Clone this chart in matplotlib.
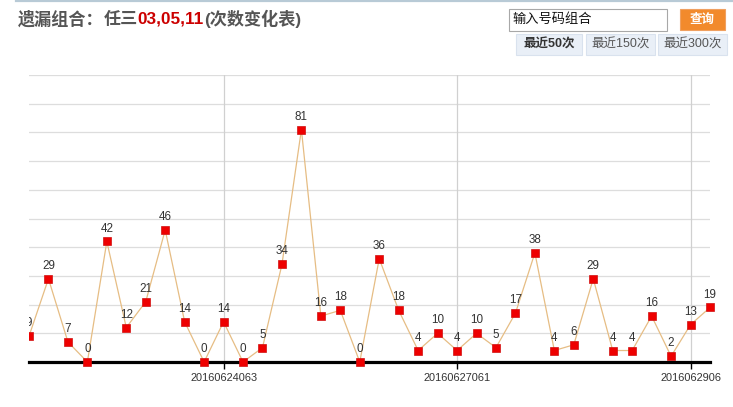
import matplotlib
matplotlib.use("Agg")
import matplotlib.pyplot as plt
from matplotlib.patches import Rectangle

plt.rcParams['font.family'] = ['Liberation Sans', 'Noto Sans CJK SC', 'DejaVu Sans']

# data
values = [9, 29, 7, 0, 42, 12, 21, 46, 14, 0, 14, 0, 5, 34, 81, 16, 18, 0,
          36, 18, 4, 10, 4, 10, 5, 17, 38, 4, 6, 29, 4, 4, 16, 2, 13, 19]
tick_index = [10, 22, 34]
tick_labels = ["20160624063", "20160627061", "2016062906"]
title_parts = [("遗漏组合：", "#555555"), ("任三", "#555555"),
               ("03,05,11", "#cc0000"), ("(次数变化表)", "#555555")]
tabs = ["最近50次", "最近150次", "最近300次"]

W, H = 733, 407
fig = plt.figure(figsize=(W / 100, H / 100), dpi=100)


def px(x, y):
    # pixel coords (top-left origin) -> figure fraction
    return x / W, 1 - y / H


def box(x0, y0, x1, y1, **kw):
    fig.patches.append(Rectangle((x0 / W, 1 - y1 / H), (x1 - x0) / W, (y1 - y0) / H,
                                 transform=fig.transFigure, **kw))


# plot area
left, right, top, bottom = 29, 710, 75, 362
ax = fig.add_axes([left / W, 1 - bottom / H, (right - left) / W, (bottom - top) / H])
n = len(values)
xs = list(range(n))
ax.set_xlim(0, n - 1)
ax.set_ylim(0, 100)

for v in range(10, 101, 10):
    ax.axhline(v, color="#dddddd", lw=0.9, zorder=0)
for i in tick_index:
    ax.axvline(i, color="#d0d0d0", lw=0.9, zorder=0)

ax.plot(xs, values, color="#e6bd84", lw=0.9, zorder=2)
# first point sits on the left edge and gets clipped, the rest do not
ax.plot(xs[:1], values[:1], ls="none", marker="s", ms=5.6, mfc="#ee0000",
        mec="#d01010", mew=0.5, zorder=4)
ax.plot(xs[1:], values[1:], ls="none", marker="s", ms=5.6, mfc="#ee0000",
        mec="#d01010", mew=0.5, zorder=4, clip_on=False)

for i, v in enumerate(values):
    ax.annotate(str(v), (i, v), xytext=(0, 5), textcoords="offset points",
                ha="center", va="bottom", fontsize=8.4, color="#333333",
                annotation_clip=False, clip_on=(i == 0), zorder=5)

for s in ["top", "right", "left"]:
    ax.spines[s].set_visible(False)
ax.spines["bottom"].set_color("black")
ax.spines["bottom"].set_linewidth(2.3)
ax.spines["bottom"].set_zorder(3)
ax.set_yticks([])
ax.set_xticks(tick_index)
ax.set_xticklabels(tick_labels, fontsize=7.9, color="#333333")
ax.tick_params(axis="x", length=5, width=1, color="black", pad=3)

# top border line
fig.add_artist(plt.Line2D([16 / W, 1], [1 - 1.2 / H] * 2, color="#b8cad6", lw=1.6,
                          transform=fig.transFigure))

# title in coloured pieces, chained left to right
t = fig.text(*px(18, 19), title_parts[0][0], color=title_parts[0][1], fontsize=12.3,
             fontweight="bold", va="center", ha="left")
for s, c in title_parts[1:]:
    t = fig.add_artist(plt.Annotation(s, xy=(1, 0.5), xycoords=t, va="center", ha="left",
                                      color=c, fontsize=12.3, fontweight="bold",
                                      annotation_clip=False))

# search box and button
box(509, 9, 667, 31, facecolor="white", edgecolor="#a8a8a8", lw=0.8)
fig.text(*px(512, 20), "输入号码组合", fontsize=9.5, color="#111111", va="center")
box(680, 9, 725, 30, facecolor="#f28a2c", edgecolor="#f0a060", lw=0.8)
fig.text(*px(702.5, 19.5), "查询", fontsize=9, color="white", fontweight="bold",
         ha="center", va="center")

# tabs
tab_x = [(516, 582), (586, 655), (658, 727)]
for k, (label, (a, b)) in enumerate(zip(tabs, tab_x)):
    box(a, 34, b, 55, facecolor="#e9eff7", edgecolor="#d9e2ee", lw=0.8)
    fig.text(*px((a + b) / 2, 44.5), label, fontsize=9,
             color="#333333" if k == 0 else "#555555",
             fontweight="bold" if k == 0 else "normal", ha="center", va="center")

plt.savefig("out.png", dpi=100)
